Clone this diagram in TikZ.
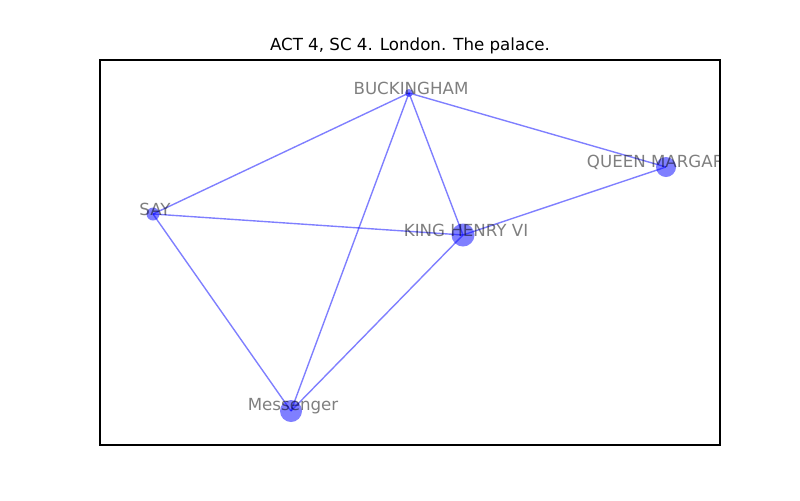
\documentclass[tikz,border=0pt]{standalone}
\usepackage{fontspec}
\setmainfont{DejaVu Sans}
\begin{document}
\begin{tikzpicture}[x=0.72pt,y=-0.72pt,
  edge/.style={draw=blue,draw opacity=0.5,line width=1pt},
  vert/.style={fill=blue,fill opacity=0.5},
  lbl/.style={text=black,text opacity=0.5,font=\fontsize{12}{14}\selectfont,inner sep=0pt,anchor=center},
  frame/.style={draw=black,line width=0.8pt}]
\useasboundingbox (0,0) rectangle (800,500);
\fill[white] (0,0) rectangle (800,500);
\coordinate (buck) at (409,93);
\coordinate (queen) at (666,167);
\coordinate (say) at (153,214);
\coordinate (king) at (463,235);
\coordinate (mess) at (291,411);
\begin{scope}
\clip (100,60) rectangle (720,445);
\draw[edge] (buck) -- (say);
\draw[edge] (buck) -- (mess);
\draw[edge] (buck) -- (king);
\draw[edge] (buck) -- (queen);
\draw[edge] (queen) -- (king);
\draw[edge] (say) -- (king);
\draw[edge] (say) -- (mess);
\draw[edge] (king) -- (mess);
\fill[vert] (buck) circle[radius=4*0.72pt];
\fill[vert] (queen) circle[radius=10*0.72pt];
\fill[vert] (say) circle[radius=6.5*0.72pt];
\fill[vert] (king) circle[radius=11.5*0.72pt];
\fill[vert] (mess) circle[radius=11*0.72pt];
\node[lbl] (lbuck) at (411,88) {BUCKINGHAM};
\node[lbl] (lqueen) at (666,162) {QUEEN MARGARET};
\node[lbl] (lsay) at (155,209) {SAY};
\node[lbl] (lking) at (466,230) {KING HENRY VI};
\node[lbl] (lmess) at (293,406) {Messenger};
\end{scope}
\draw[frame] (100,60) rectangle (720,445);
\node[font=\fontsize{12}{14}\selectfont,inner sep=0pt] (title) at (410,46) {ACT 4, SC 4. London. The palace.};
\end{tikzpicture}
\end{document}
